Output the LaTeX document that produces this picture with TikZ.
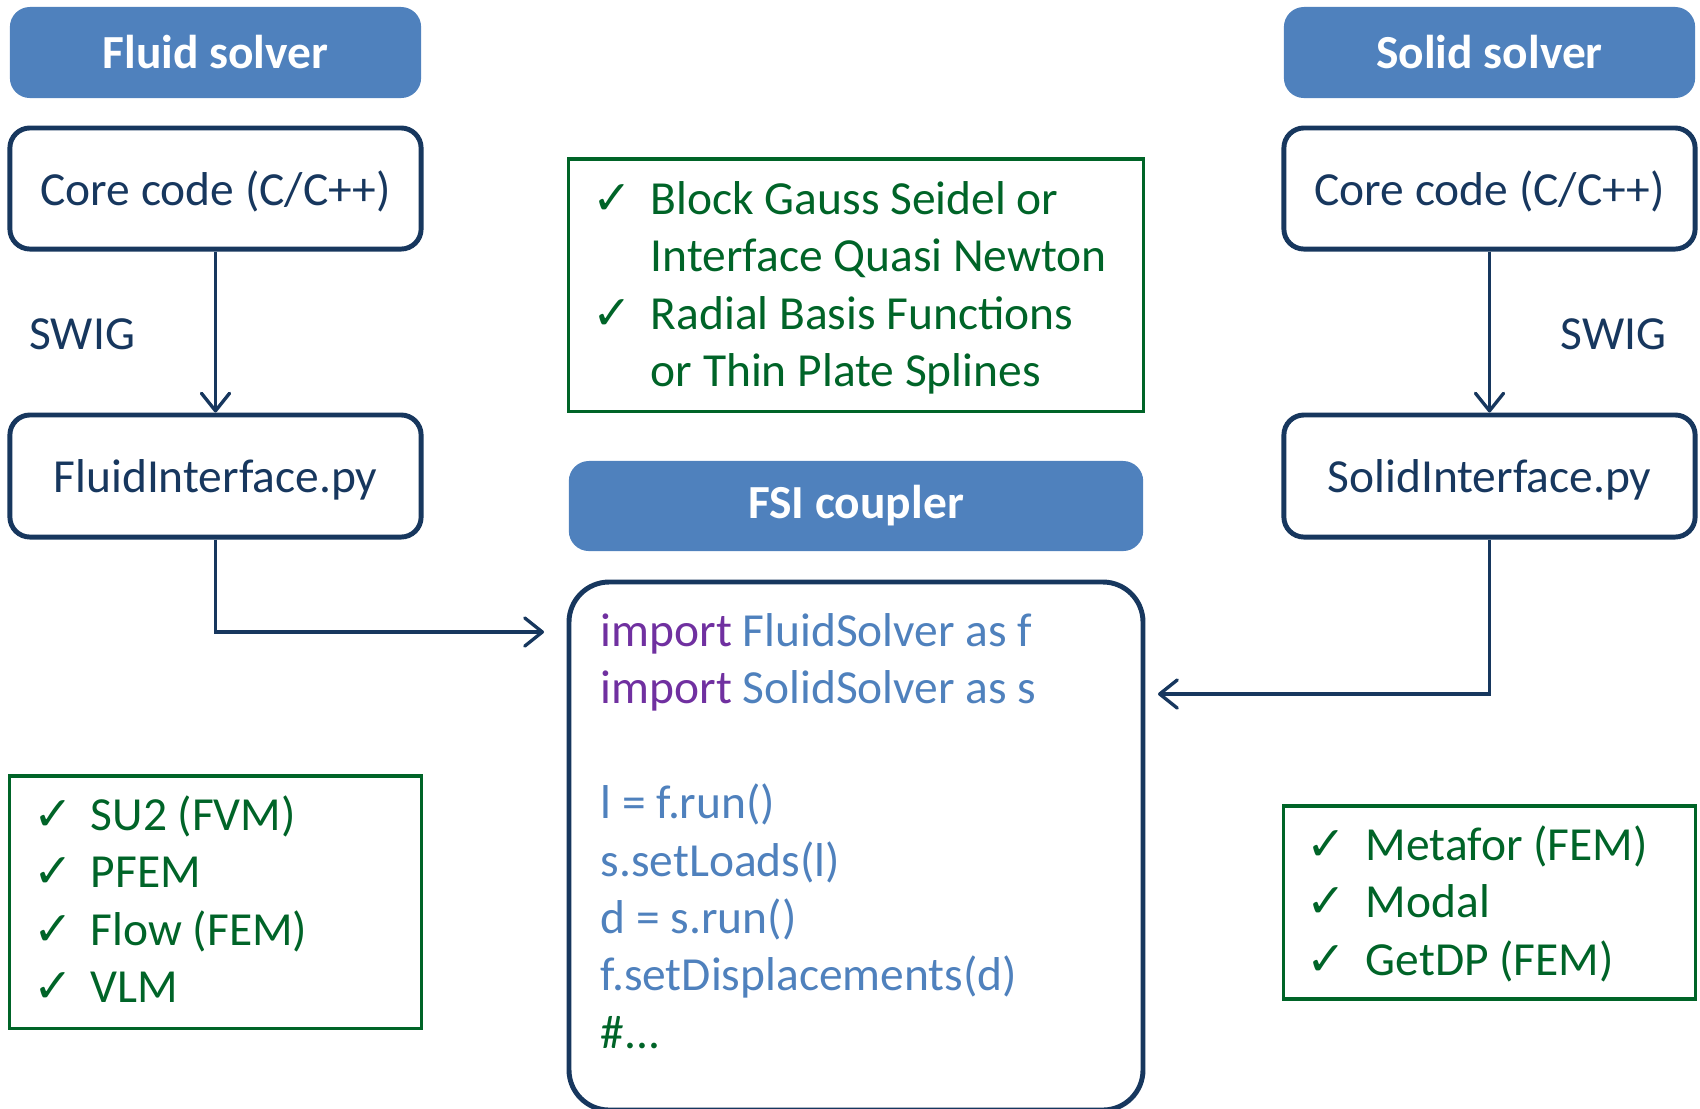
\documentclass[tikz,border=0pt]{standalone}
\usepackage{fontspec}
\setmainfont{Carlito}
\newfontfamily\symfont{DejaVu Sans}
\usetikzlibrary{arrows.meta}
\definecolor{headblue}{RGB}{79,129,189}
\definecolor{navy}{RGB}{23,55,94}
\definecolor{listgreen}{RGB}{0,100,40}
\definecolor{kwpurple}{RGB}{112,48,160}
\newcommand{\ck}{{\symfont\bfseries\char"2713}}
\newcommand{\kw}[1]{\textcolor{kwpurple}{#1}}
\newcommand{\mainsize}{\fontsize{13.5}{16.35}\selectfont}

\tikzset{
  head/.style={fill=headblue,rounded corners=5.7pt,text=white,font=\mainsize\bfseries,
    minimum width=4.11cm,minimum height=0.91cm},
  part/.style={draw=navy,line width=1.4pt,rounded corners=5.7pt,text=navy,
    minimum width=4.11cm,minimum height=1.21cm,text height=0.45cm,text depth=0.12cm},
  listbox/.style={draw=listgreen,line width=0.9pt},
  listtext/.style={text=listgreen,anchor=base west,inner sep=0pt},
  conn/.style={navy,line width=0.95pt,-{Straight Barb[length=5pt,width=8pt,round]}}
}

\begin{document}
\begin{tikzpicture}[x=0.01cm,y=-0.01cm,font=\mainsize]
\useasboundingbox (0,0) rectangle (1700,1108);
\node[head] (fluidhead) at (215.5,52.5) {Fluid solver};
\node[part] (fluidcore) at (215.5,188.5) {Core code (C/C++)};
\node[part,minimum height=1.22cm] (fluidint) at (215.5,476) {FluidInterface.py};
\node[head] (solidhead) at (1489.5,52.5) {Solid solver};
\node[part] (solidcore) at (1489.5,188.5) {Core code (C/C++)};
\node[part,minimum height=1.22cm] (solidint) at (1489.5,476) {SolidInterface.py};
\node[head,minimum width=5.74cm,minimum height=0.9cm] (fsihead) at (856,506) {FSI coupler};
\draw[draw=navy,line width=1.4pt,rounded corners=11.4pt] (569,582) rectangle (1143,1110);
\node[listbox,minimum width=5.74cm,minimum height=2.52cm] (methbox) at (856,285) {};
\node[listbox,minimum width=4.11cm,minimum height=2.52cm] (fluidbox) at (215.5,902) {};
\node[listbox,minimum width=4.11cm,minimum height=1.93cm] (solidbox) at (1489.5,902.5) {};

\node[listtext] (meth) at (592,214) {\begin{tabular}[t]{@{}p{0.58cm}@{}l@{}}
\ck & Block Gauss Seidel or\\
    & Interface Quasi Newton\\
\ck & Radial Basis Functions\\
    & or Thin Plate Splines
\end{tabular}};
\node[listtext] (fluidlist) at (33,830) {\begin{tabular}[t]{@{}p{0.57cm}@{}l@{}}
\ck & SU2 (FVM)\\
\ck & PFEM\\
\ck & Flow (FEM)\\
\ck & VLM
\end{tabular}};
\node[listtext] (solidlist) at (1306,860) {\begin{tabular}[t]{@{}p{0.59cm}@{}l@{}}
\ck & Metafor (FEM)\\
\ck & Modal\\
\ck & GetDP (FEM)
\end{tabular}};
\node[listtext,text=headblue] (code) at (600,646) {\begin{tabular}[t]{@{}l@{}}
\kw{import} FluidSolver as f\\
\kw{import} SolidSolver as s\\
\\
l = f.run()\\
s.setLoads(l)\\
d = s.run()\\
f.setDisplacements(d)\\
\textcolor{listgreen}{\#...}
\end{tabular}};

\coordinate (fluidin) at (544,632);
\coordinate (solidin) at (1158,694);
\draw[conn] (fluidcore) -- node[text=navy,left=0.67cm,text height=0.36cm] (fluidswig) {SWIG} (fluidint);
\draw[conn] (solidcore) -- node[text=navy,right=0.58cm,text height=0.36cm] (solidswig) {SWIG} (solidint);
\draw[conn] (fluidint.south) |- (fluidin);
\draw[conn] (solidint.south) |- (solidin);
\end{tikzpicture}
\end{document}
